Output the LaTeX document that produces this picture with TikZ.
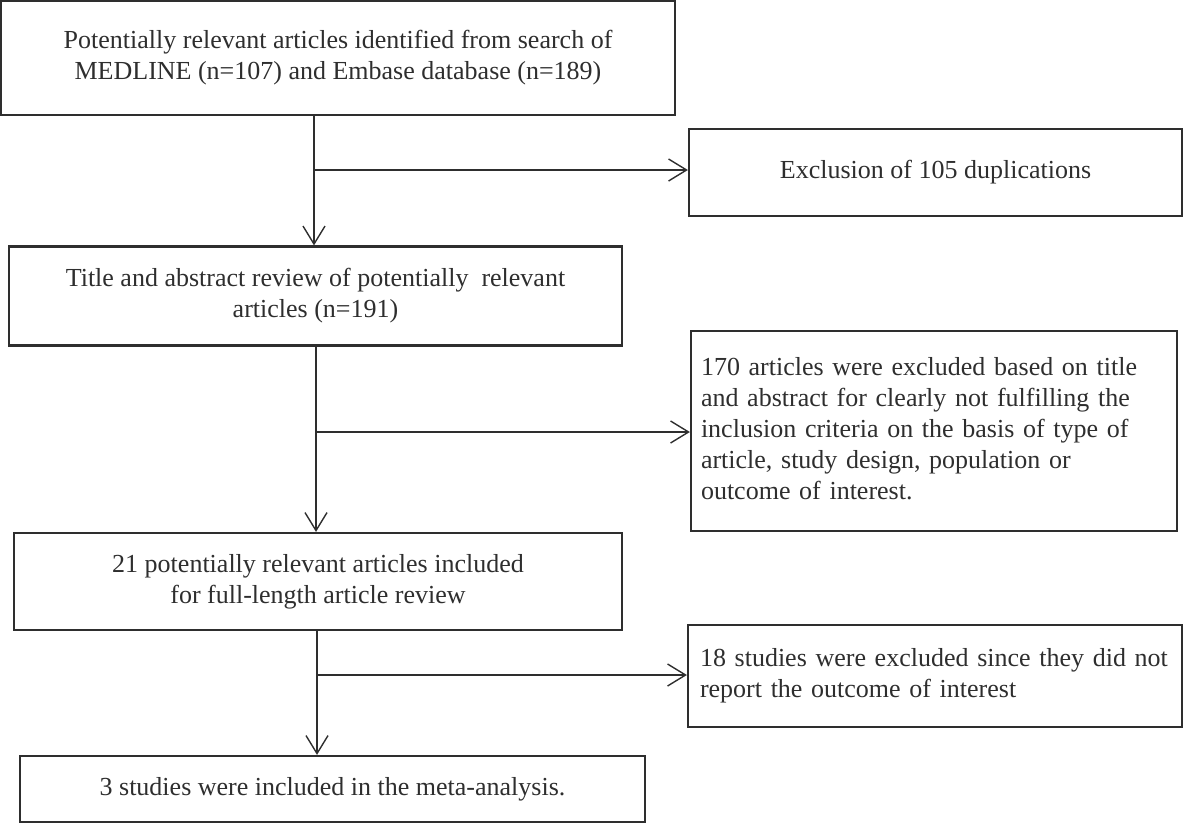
\documentclass[tikz,border=0pt]{standalone}
\usepackage{fontspec}
\setmainfont{Liberation Serif}
\usetikzlibrary{arrows.meta}
\definecolor{ink}{HTML}{2E2E2E}
\begin{document}
\begin{tikzpicture}[x=1pt,y=-1pt,
  box/.style={draw=ink, line width=2.2pt, rectangle, inner sep=0pt, text=ink, font=\fontsize{26}{31}\selectfont},
  lbox/.style={box, align=left},
  conn/.style={draw=ink, line width=1.8pt},
  arr/.style={conn, -{Straight Barb[length=18pt,width=22pt,line width=1.4pt]}}]
\useasboundingbox (0,0) rectangle (1183,824);
\node[box, minimum width=674pt, minimum height=114pt, align=center] (b1) at (338,58)
  {Potentially relevant articles identified from search of\\ MEDLINE (n=107) and Embase database (n=189)};
\node[box, minimum width=493pt, minimum height=87pt] (b2) at (935.5,172.5)
  {Exclusion of 105 duplications};
\node[box, minimum width=613pt, minimum height=99pt, align=center] (b3) at (315.5,296)
  {Title and abstract review of potentially\ \ relevant\\ articles (n=191)};
\node[lbox, minimum width=486pt, minimum height=200pt, text width=466pt] (b4) at (934,431)
  {170 articles were excluded based on title\\ and abstract for clearly not fulfilling the\\ inclusion criteria on the basis of type of\\ article, study design, population or\\ outcome of interest.\vphantom{p}};
\node[box, minimum width=608pt, minimum height=97pt, align=center] (b5) at (318,581.5)
  {21 potentially relevant articles included\\ for full-length article review};
\node[lbox, minimum width=494pt, minimum height=102pt, text width=470pt] (b6) at (935,676)
  {18 studies were excluded since they did not\\ report the outcome of interest};
\node[box, minimum width=625pt, minimum height=66pt] (b7) at (332.5,789)
  {3 studies were included in the meta-analysis.};
\coordinate (j1) at (314,170);
\coordinate (j2) at (316,432);
\coordinate (j3) at (317,675);
\draw[arr] (b1.south -| j1) -- (b3.north -| j1);
\draw[arr] (j1) -- (b2.west |- j1);
\draw[arr] (b3.south -| j2) -- (b5.north -| j2);
\draw[arr] (j2) -- (b4.west |- j2);
\draw[arr] (b5.south -| j3) -- (b7.north -| j3);
\draw[arr] (j3) -- (b6.west |- j3);
\end{tikzpicture}
\end{document}
